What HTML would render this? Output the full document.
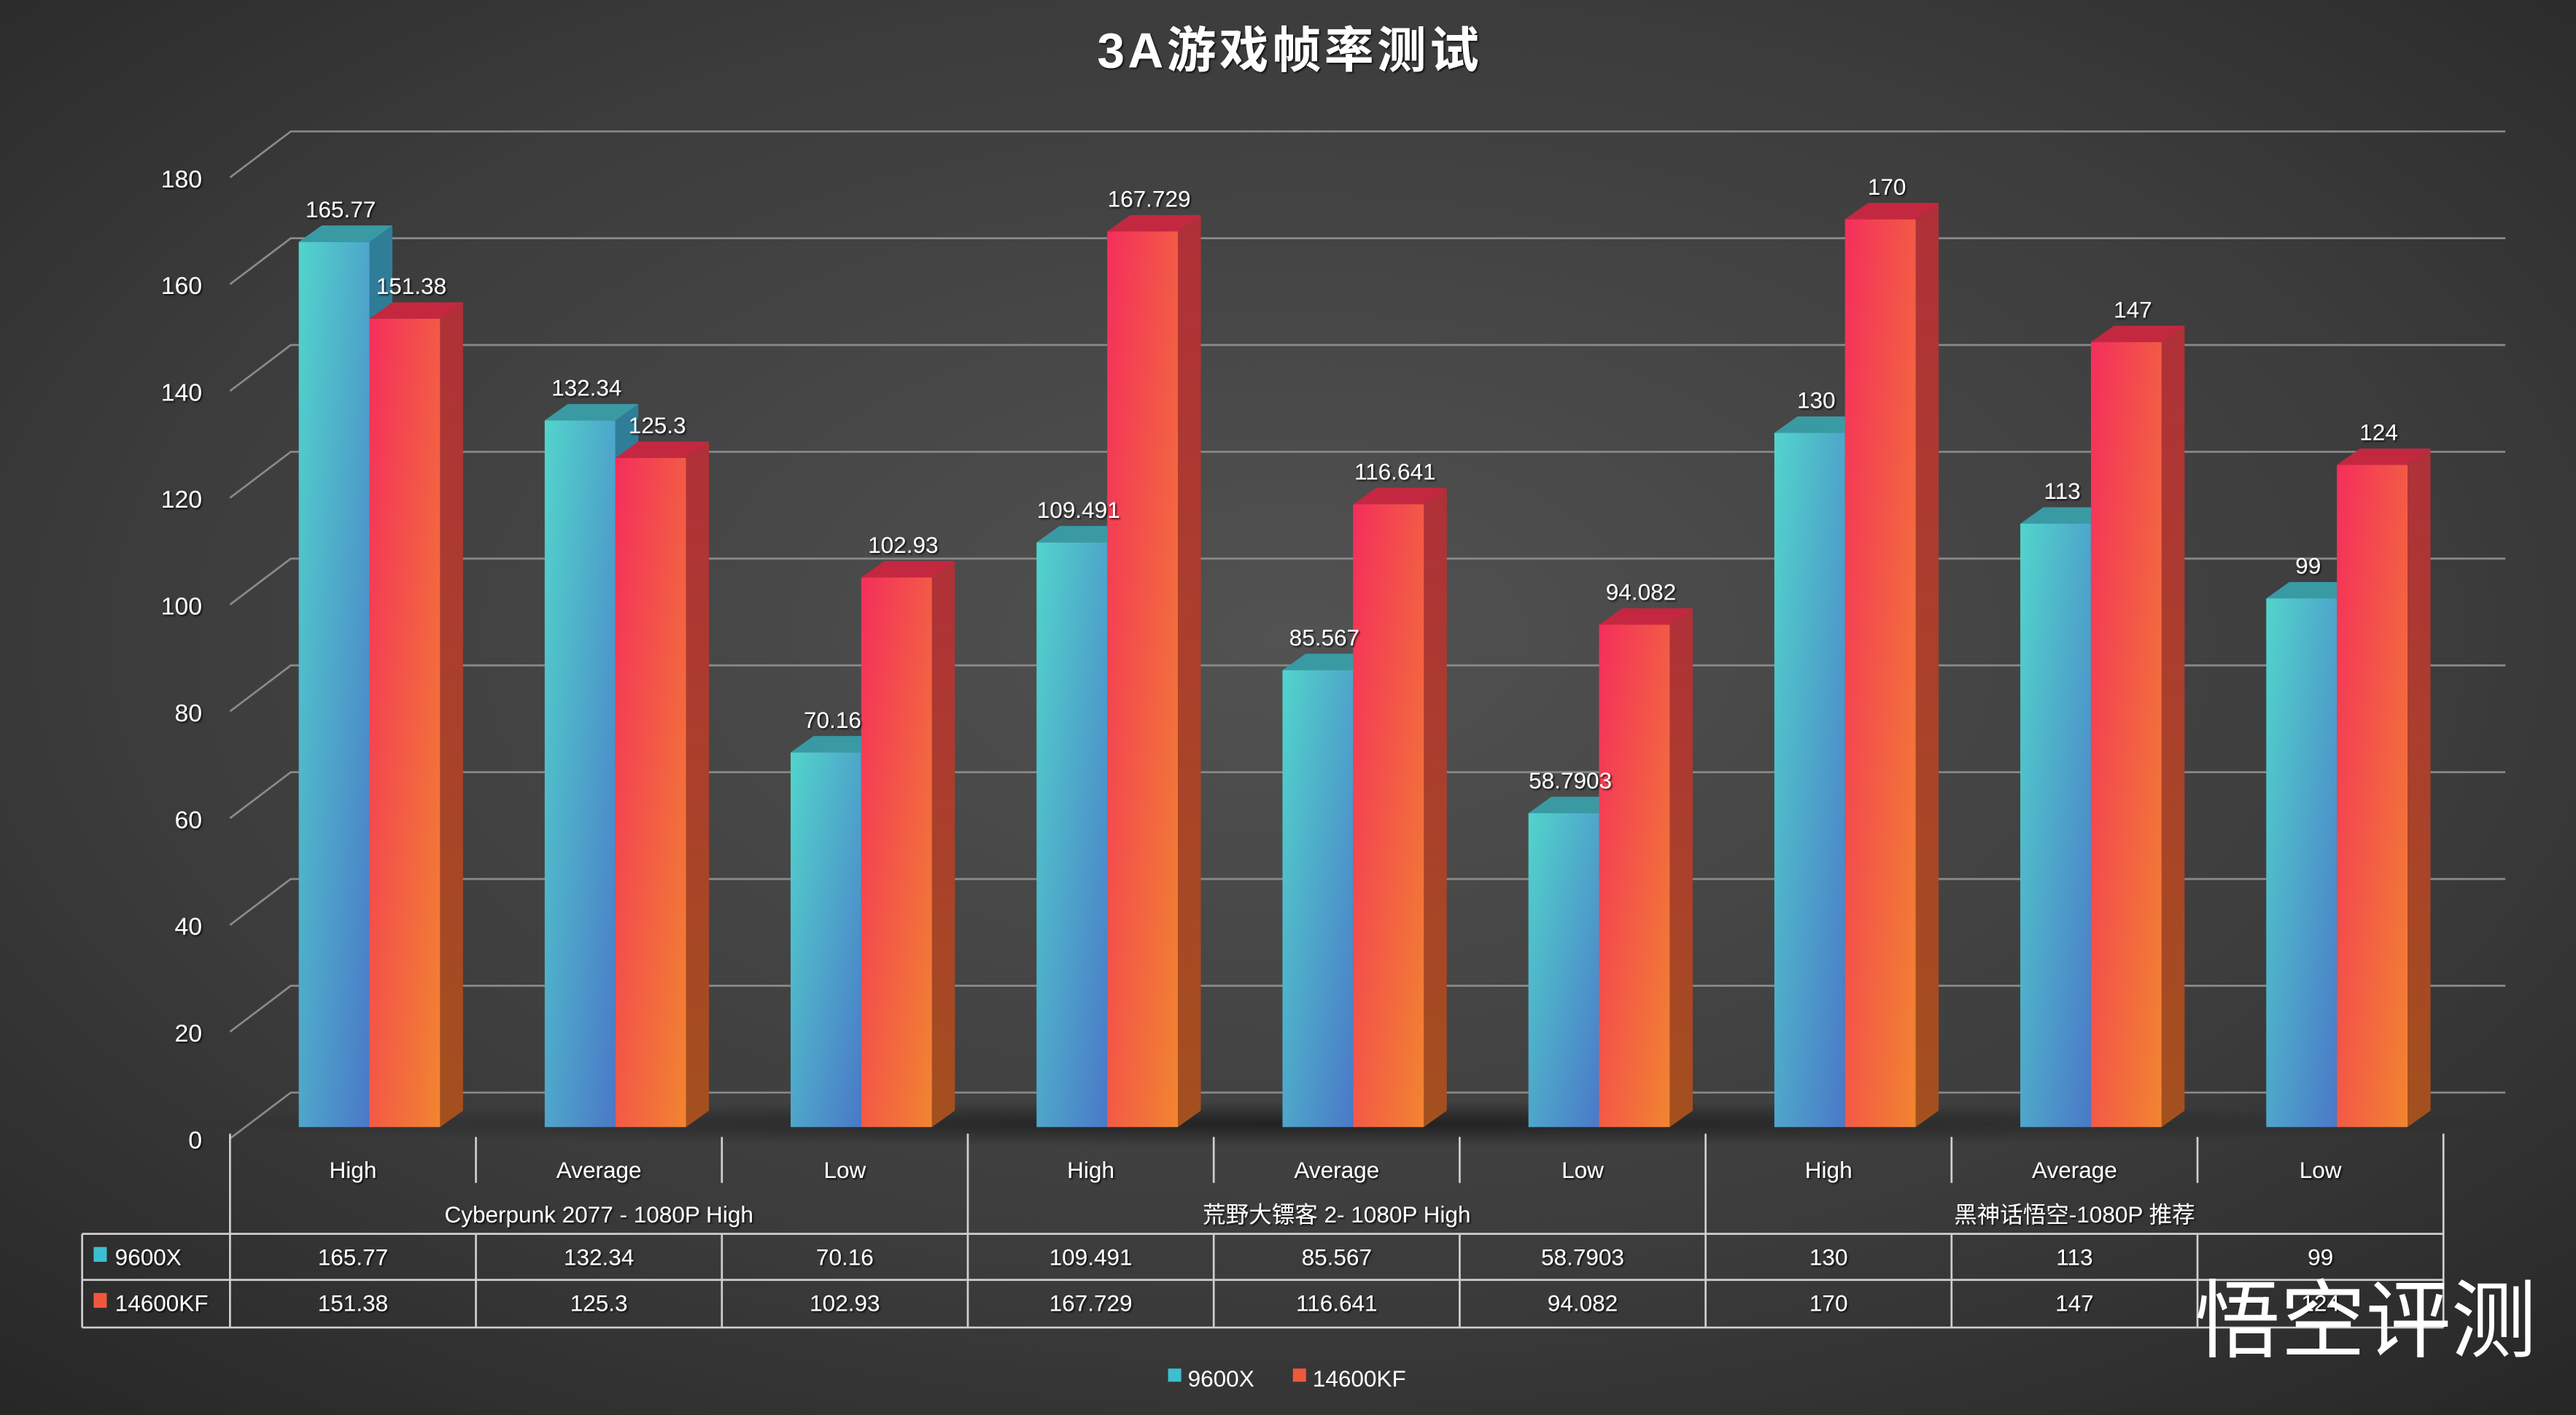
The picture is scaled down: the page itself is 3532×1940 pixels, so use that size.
<!DOCTYPE html>
<html><head><meta charset="utf-8">
<style>
html,body{margin:0;padding:0;background:#333;}
svg{display:block;}
text{font-family:"Liberation Sans","Noto Sans CJK SC",sans-serif;}
</style></head>
<body>
<svg id="chart" width="3532" height="1940" viewBox="0 0 1568 861.25" preserveAspectRatio="none" xmlns="http://www.w3.org/2000/svg">
<defs>
<radialGradient id="bg" cx="0.5" cy="0.45" r="0.75">
<stop offset="0" stop-color="#525252"/><stop offset="0.6" stop-color="#3c3c3c"/><stop offset="1" stop-color="#262626"/>
</radialGradient>
<linearGradient id="cyanF" x1="0" y1="0" x2="1" y2="1"><stop offset="0" stop-color="#52d4cc"/><stop offset="1" stop-color="#4a78c8"/></linearGradient>
<linearGradient id="redF" x1="0" y1="0" x2="1" y2="1"><stop offset="0" stop-color="#f42e5c"/><stop offset="1" stop-color="#f28530"/></linearGradient>
<linearGradient id="cyanS" x1="0" y1="0" x2="0" y2="1"><stop offset="0" stop-color="#2f7f98"/><stop offset="1" stop-color="#2f5e90"/></linearGradient>
<linearGradient id="redS" x1="0" y1="0" x2="0" y2="1"><stop offset="0" stop-color="#b03038"/><stop offset="1" stop-color="#a4501e"/></linearGradient>
<radialGradient id="shadow" cx="0.5" cy="0.5" r="0.5"><stop offset="0" stop-color="#000" stop-opacity="0.5"/><stop offset="1" stop-color="#000" stop-opacity="0"/></radialGradient>
<filter id="ts"><feDropShadow dx="0.8" dy="0.8" stdDeviation="0.6" flood-color="#000" flood-opacity="0.8"/></filter>
</defs>
<rect x="0" y="0" width="1568" height="862" fill="url(#bg)"/>
<text x="785" y="41" text-anchor="middle" font-size="30" font-weight="bold" letter-spacing="2" fill="#fff" filter="url(#ts)">3A游戏帧率测试</text>
<g id="grid"></g>
<g id="bars"></g>
<g id="vlabels"></g>
<g id="table"></g>
<g>
<rect x="711" y="833" width="8" height="8" fill="#3cc0d0"/>
<text x="723" y="844" font-size="14" fill="#fff">9600X</text>
<rect x="787" y="833" width="8" height="8" fill="#f0583c"/>
<text x="799" y="844" font-size="14" fill="#fff">14600KF</text>
</g>
<text x="1440" y="822" text-anchor="middle" font-size="52" fill="#fff" font-family="'Noto Sans CJK SC',sans-serif">悟空评测</text>
</svg>
<script>
const categories = ["High","Average","Low","High","Average","Low","High","Average","Low"];
const games = ["Cyberpunk 2077 - 1080P High","荒野大镖客 2- 1080P High","黑神话悟空-1080P 推荐"];
const seriesNames = ["9600X","14600KF"];
const values9600X = [165.77,132.34,70.16,109.491,85.567,58.7903,130,113,99];
const values14600KF = [151.38,125.3,102.93,167.729,116.641,94.082,170,147,124];
const labels9600X = ["165.77","132.34","70.16","109.491","85.567","58.7903","130","113","99"];
const labels14600KF = ["151.38","125.3","102.93","167.729","116.641","94.082","170","147","124"];
const yTicks = [0,20,40,60,80,100,120,140,160,180];

const NS = "http://www.w3.org/2000/svg";
const base = 686, unit = 3.25, x0 = 140, cellW = 149.7, DX = 37, DY = -28, bw = 43, ddx = 14, ddy = -10, gridOff = 7;
function yS(v){ return base - v*unit; }
function xC(i){ return x0 + cellW*(i+0.5); }
function mk(tag, attrs, parent){ const e=document.createElementNS(NS,tag); for(const k in attrs) e.setAttribute(k,attrs[k]); parent.appendChild(e); return e; }

const grid = document.getElementById('grid');
yTicks.forEach(t=>{
  const y = yS(t) + gridOff;
  const d = mk('path',{d:`M${x0} ${y} L${x0+DX} ${y+DY} L1525 ${y+DY}`,stroke:'#8a8a8a','stroke-width':1.2,fill:'none'},grid);
  
  
  const lb = mk('text',{x:123,y:y+6,'text-anchor':'end','font-size':15,fill:'#fff',filter:'url(#ts)'},grid);
  lb.textContent = t;
  
  
});
const sh = mk('ellipse',{cx:820,cy:684,rx:720,ry:14,fill:'url(#shadow)'},grid);



const bars = document.getElementById('bars');
const vl = document.getElementById('vlabels');
function bar(x, v, front, side, top, name, lbl){
  const yt = yS(v);
  const g = mk('g',{},bars);
  
  
  mk('polygon',{points:`${x+bw},${yt} ${x+bw+ddx},${yt+ddy} ${x+bw+ddx},${base+ddy} ${x+bw},${base}`,fill:side},g);
  mk('polygon',{points:`${x},${yt} ${x+ddx},${yt+ddy} ${x+bw+ddx},${yt+ddy} ${x+bw},${yt}`,fill:top},g);
  mk('rect',{x:x,y:yt,width:bw,height:base-yt,fill:front},g);
  const t = mk('text',{x:x+bw/2+4,y:yt-15,'text-anchor':'middle','font-size':14,fill:'#fff',filter:'url(#ts)'},vl);
  t.textContent = lbl;
  
  
}
categories.forEach((c,i)=>{
  const cx = xC(i);
  bar(cx-33, values9600X[i], 'url(#cyanF)', 'url(#cyanS)', '#3a9aa4', 'bar-9600x-'+i, labels9600X[i]);
  bar(cx+10, values14600KF[i], 'url(#redF)', 'url(#redS)', '#c42840', 'bar-14600kf-'+i, labels14600KF[i]);
});

const tb = document.getElementById('table');
const L = (x1,y1,x2,y2,n)=>{ const l=mk('line',{x1,y1,x2,y2,stroke:'#cfcfcf','stroke-width':1.2},tb);   };
const xEnd = x0 + cellW*9;
L(x0,690,x0,808,'table-left-border');
for(let i=1;i<=9;i++){
  const x = x0+cellW*i;
  if(i%3===0) L(x,690,x,808,'table-group-divider-'+i);
  else { L(x,692,x,720,'table-cat-divider-'+i); L(x,751,x,808,'table-cell-divider-'+i); }
}
L(50,751,xEnd,751,'table-row-line-1');
L(50,779,xEnd,779,'table-row-line-2');
L(50,808,xEnd,808,'table-row-line-3');
L(50,751,50,808,'table-outer-left');
function txt(x,y,s,n,size){ const t=mk('text',{x,y,'text-anchor':'middle','font-size':size||14,fill:'#fff',filter:'url(#ts)'},tb); t.textContent=s;   return t; }
categories.forEach((c,i)=>{
  txt(xC(i),717,c,'x-category-'+i);
  txt(xC(i),770,labels9600X[i],'table-9600x-'+i);
  txt(xC(i),798,labels14600KF[i],'table-14600kf-'+i);
});
games.forEach((g,i)=>{ txt(x0+cellW*(3*i+1.5),744,g,'x-group-'+i); });
const colors=['#3cc0d0','#f0583c'];
seriesNames.forEach((s,i)=>{
  const y = 765+i*28;
  const r = mk('rect',{x:57,y:y-6,width:8,height:9,fill:colors[i]},tb);
  
  
  const t = mk('text',{x:70,y:y+5,'font-size':14,fill:'#fff',filter:'url(#ts)'},tb);
  t.textContent = s;
  
  
});
</script>
</body></html>
